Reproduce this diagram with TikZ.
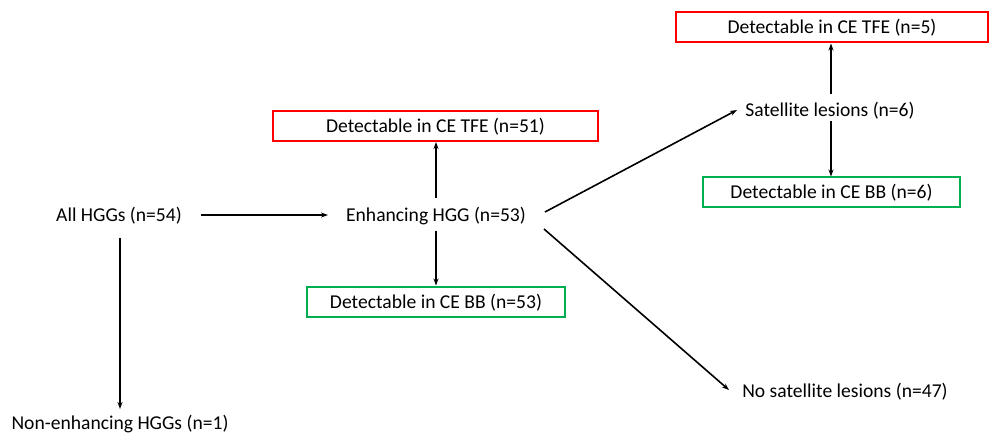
\documentclass[tikz,border=0pt]{standalone}
\usepackage{fontspec}
\setmainfont{Carlito}
\usetikzlibrary{arrows.meta}
\definecolor{boxred}{RGB}{255,0,0}
\definecolor{boxgreen}{RGB}{0,176,80}
\begin{document}
\begin{tikzpicture}[x=1pt,y=-1pt,
  lbl/.style={font=\fontsize{19.6}{22}\selectfont, inner sep=0pt, text height=14.5pt, text depth=1.5pt},
  redbox/.style={lbl, draw=boxred, line width=2pt, minimum height=30pt},
  greenbox/.style={lbl, draw=boxgreen, line width=2pt, minimum height=30pt},
  conn/.style={line width=1.6pt, -{Stealth[length=7pt,width=5pt]}}]
\useasboundingbox (0,0) rectangle (989,433);
\node[lbl] (all) at (119,215) {All HGGs (n=54)};
\node[lbl] (enh) at (436,215) {Enhancing HGG (n=53)};
\node[redbox, minimum width=325pt] (tfe1) at (435.5,126) {Detectable in CE TFE (n=51)};
\node[greenbox, minimum width=258pt] (bb1) at (436,301.5) {Detectable in CE BB (n=53)};
\node[lbl] (sat) at (830,110) {Satellite lesions (n=6)};
\node[redbox, minimum width=312pt] (tfe2) at (832,27.5) {Detectable in CE TFE (n=5)};
\node[greenbox, minimum width=257pt] (bb2) at (831.5,192.5) {Detectable in CE BB (n=6)};
\node[lbl] (nosat) at (845,391) {No satellite lesions (n=47)};
\node[lbl] (non) at (120,423) {Non-enhancing HGGs (n=1)};
\coordinate (a1s) at (201,215);
\coordinate (a1e) at (328,215);
\draw[conn] (a1s) -- (a1e);
\draw[conn] (436,198) -- (tfe1.south -| 436,0);
\draw[conn] (436,231) -- (bb1.north -| 436,0);
\draw[conn] (545,212) -- (737,110);
\draw[conn] (831,94) -- (tfe2.south -| 831,0);
\draw[conn] (831,121) -- (bb2.north -| 831,0);
\draw[conn] (544,229) -- (729,390);
\draw[conn] (120,238) -- (120,409);
\end{tikzpicture}
\end{document}
